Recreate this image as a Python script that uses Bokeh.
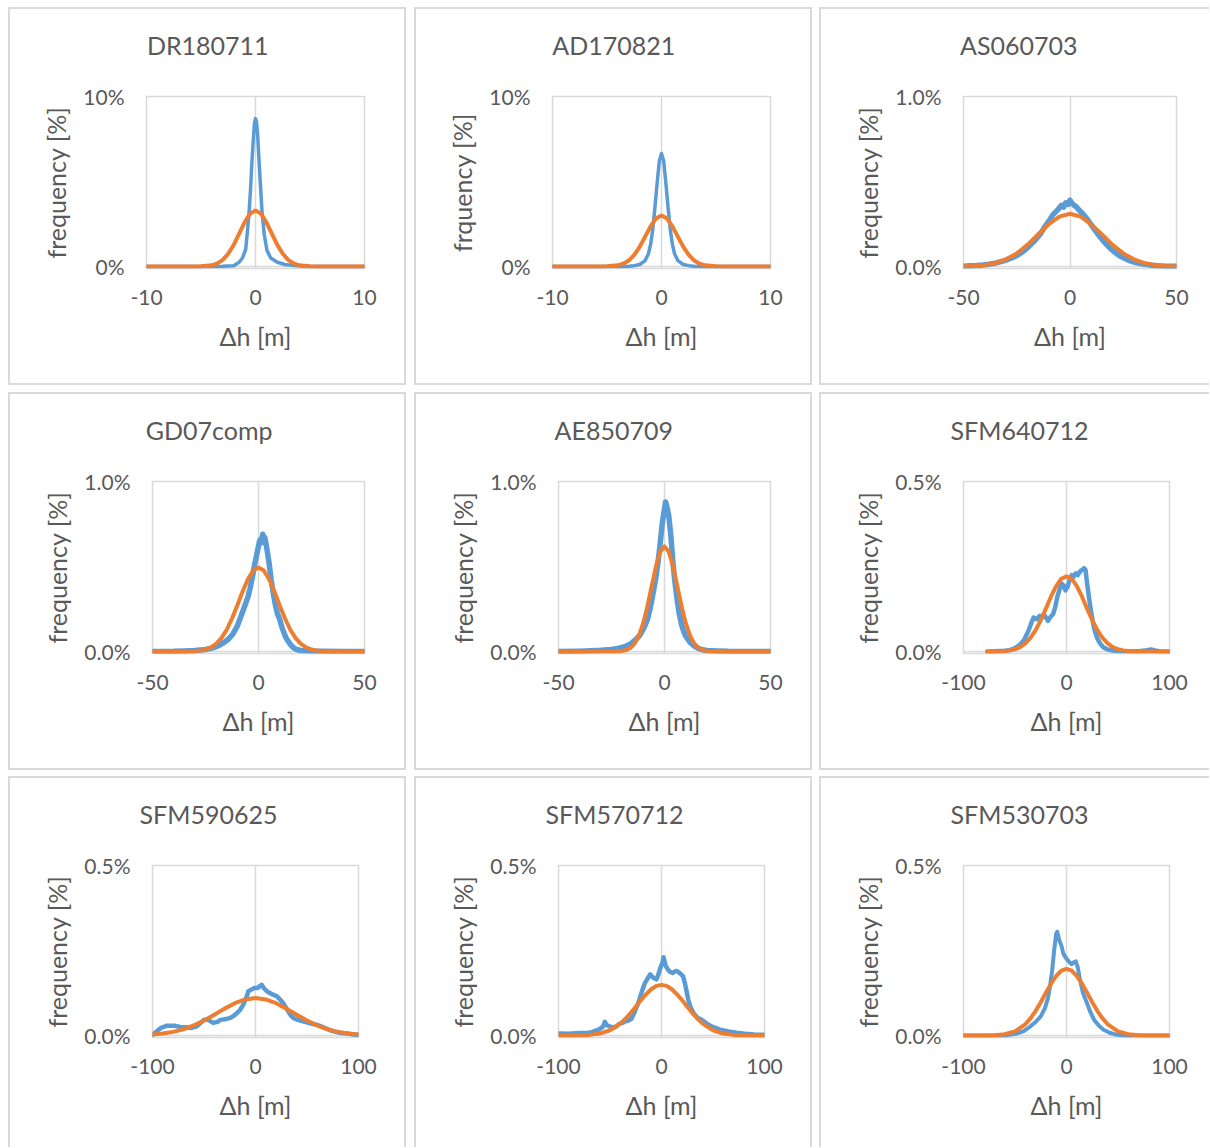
from bokeh.plotting import figure
from bokeh.models import Range1d, FixedTicker, PrintfTickFormatter, Title
from bokeh.layouts import row, column
from bokeh.embed import file_html
from bokeh.resources import INLINE

FONT = "Lato"
TXT = "#595959"
BLUE = "#5B9BD5"
ORANGE = "#ED7D31"
GRID = "#D9D9D9"

# ---------------- data ----------------
titles = ["DR180711", "AD170821", "AS060703",
          "GD07comp", "AE850709", "SFM640712",
          "SFM590625", "SFM570712", "SFM530703"]
y_labels = ["frequency [%]", "frquency [%]", "frequency [%]",
            "frequency [%]", "frequency [%]", "frequency [%]",
            "frequency [%]", "frequency [%]", "frequency [%]"]
x_label = "Δh [m]"
x_limits = [10, 10, 50, 50, 50, 100, 100, 100, 100]
y_max = [10, 10, 1.0, 1.0, 1.0, 0.5, 0.5, 0.5, 0.5]
y_formats = ["%d%%", "%d%%", "%.1f%%", "%.1f%%", "%.1f%%", "%.1f%%", "%.1f%%", "%.1f%%", "%.1f%%"]

# DR180711
dr_obs_x = [-10, -5, -3, -2, -1.5, -1.2, -0.9, -0.75, -0.6, -0.45,
            -0.35, -0.2, -0.1, 0, 0.1, 0.2, 0.35, 0.5, 0.6, 0.8,
            1.05, 1.4, 2.0, 2.7, 3.5, 4.5, 6, 10]
dr_obs_y = [0, 0, 0.01, 0.05, 0.25, 0.5, 1.0, 2.0, 3.1, 4.6,
            5.9, 7.5, 8.4, 8.7, 8.5, 7.7, 5.9, 4.3, 3.2, 1.9,
            0.95, 0.5, 0.25, 0.12, 0.06, 0.02, 0, 0]
dr_fit_x = [-10, -6, -5, -4, -3.5, -3, -2.5, -2, -1.5, -1,
            -0.5, 0, 0.5, 1, 1.5, 2, 2.5, 3, 3.5, 4,
            5, 6, 10]
dr_fit_y = [0, 0, 0.01, 0.07, 0.18, 0.39, 0.75, 1.27, 1.93, 2.6,
            3.11, 3.3, 3.11, 2.6, 1.93, 1.27, 0.75, 0.39, 0.18, 0.07,
            0.01, 0, 0]

# AD170821
ad_obs_x = [-10, -5, -4, -3, -2.5, -2, -1.5, -1.2, -1.0, -0.8,
            -0.6, -0.4, -0.2, 0, 0.2, 0.4, 0.6, 0.8, 1.0, 1.2,
            1.5, 2, 2.5, 3, 4, 5, 10]
ad_obs_y = [0, 0, 0.005, 0.02, 0.05, 0.12, 0.35, 0.75, 1.3, 2.2,
            3.5, 4.9, 6.2, 6.65, 6.2, 4.9, 3.5, 2.2, 1.3, 0.75,
            0.35, 0.12, 0.05, 0.02, 0.005, 0, 0]
ad_fit_x = [-10, -6, -5, -4, -3.5, -3, -2.5, -2, -1.5, -1,
            -0.5, 0, 0.5, 1, 1.5, 2, 2.5, 3, 3.5, 4,
            5, 6, 10]
ad_fit_y = [0, 0, 0.01, 0.07, 0.16, 0.35, 0.68, 1.16, 1.76, 2.36,
            2.83, 3.0, 2.83, 2.36, 1.76, 1.16, 0.68, 0.35, 0.16, 0.07,
            0.01, 0, 0]

# AS060703
as_obs_x = [-50, -47, -44, -41, -38, -35, -32, -30, -28, -26,
            -24, -22, -20, -18, -16, -14, -12, -10, -8, -6,
            -4, -3, -2, -1, 0, 1, 2, 3, 4, 6,
            8, 10, 12, 14, 16, 18, 20, 22, 24, 26,
            28, 30, 32, 35, 38, 41, 44, 47, 50]
as_obs_y = [0.002, 0.004, 0.006, 0.009, 0.013, 0.02, 0.03, 0.037, 0.048, 0.058,
            0.072, 0.088, 0.11, 0.135, 0.16, 0.19, 0.23, 0.265, 0.305, 0.33,
            0.36, 0.35, 0.375, 0.365, 0.39, 0.37, 0.36, 0.35, 0.335, 0.31,
            0.28, 0.245, 0.21, 0.175, 0.145, 0.118, 0.095, 0.074, 0.058, 0.045,
            0.034, 0.026, 0.02, 0.013, 0.008, 0.005, 0.003, 0.002, 0.001]
as_fit_x = [-50, -45, -40, -35, -30, -25, -20, -15, -10, -5,
            0, 5, 10, 15, 20, 25, 30, 35, 40, 45, 50]
as_fit_y = [0.001, 0.0034, 0.0088, 0.020, 0.042, 0.077, 0.127, 0.188, 0.248, 0.293,
            0.31, 0.293, 0.248, 0.188, 0.127, 0.077, 0.042, 0.020, 0.0088, 0.0034, 0.001]

# GD07comp
gd_obs_x = [-50, -40, -35, -30, -25, -22, -20, -18, -16, -14,
            -12, -10, -8.5, -7, -6, -5, -4, -3, -2, -1,
            0, 0.5, 1, 1.5, 2, 2.5, 3, 4, 5, 6,
            7, 8, 9, 10, 11, 12, 13, 14, 15, 16,
            17, 18, 20, 25, 30, 40, 50]
gd_obs_y = [0, 0.001, 0.003, 0.006, 0.012, 0.02, 0.028, 0.04, 0.055, 0.075,
            0.105, 0.15, 0.2, 0.25, 0.285, 0.32, 0.37, 0.43, 0.5, 0.56,
            0.62, 0.65, 0.66, 0.64, 0.69, 0.67, 0.67, 0.6, 0.52, 0.42,
            0.34, 0.27, 0.22, 0.19, 0.145, 0.11, 0.08, 0.06, 0.042, 0.028,
            0.018, 0.012, 0.006, 0.002, 0.001, 0, 0]
gd_fit_x = [-50, -40, -35, -30, -27.5, -25, -22.5, -20, -17.5, -15,
            -12.5, -10, -7.5, -5, -2.5, 0, 2.5, 5, 7.5, 10,
            12.5, 15, 17.5, 20, 22.5, 25, 27.5, 30, 35, 40, 50]
gd_fit_y = [0, 0, 0.0003, 0.0022, 0.0053, 0.0116, 0.024, 0.045, 0.079, 0.128,
            0.194, 0.271, 0.353, 0.425, 0.476, 0.494, 0.476, 0.425, 0.353, 0.271,
            0.194, 0.128, 0.079, 0.045, 0.024, 0.0116, 0.0053, 0.0022, 0.0003, 0, 0]

# AE850709
ae_obs_x = [-50, -40, -35, -30, -25, -22, -20, -18, -16, -14,
            -12, -10, -8, -7, -6, -5, -4, -3, -2, -1,
            0, 0.5, 1, 2, 3, 4, 5, 6, 7, 8,
            9, 10, 12, 14, 16, 18, 20, 25, 30, 40, 50]
ae_obs_y = [0, 0.002, 0.004, 0.007, 0.012, 0.018, 0.024, 0.032, 0.045, 0.065,
            0.09, 0.13, 0.19, 0.24, 0.3, 0.37, 0.44, 0.53, 0.64, 0.76,
            0.84, 0.88, 0.86, 0.8, 0.68, 0.52, 0.4, 0.3, 0.22, 0.16,
            0.12, 0.09, 0.055, 0.032, 0.018, 0.01, 0.006, 0.003, 0.001, 0, 0]
ae_fit_x = [-50, -30, -25, -20, -18, -16, -14, -12, -10, -8,
            -6, -4, -2, 0, 2, 4, 6, 8, 10, 12,
            14, 16, 18, 20, 25, 30, 50]
ae_fit_y = [0, 0, 0.0002, 0.0034, 0.009, 0.022, 0.048, 0.095, 0.168, 0.269,
            0.387, 0.502, 0.587, 0.618, 0.587, 0.502, 0.387, 0.269, 0.168, 0.095,
            0.048, 0.022, 0.009, 0.0034, 0.0002, 0, 0]

# SFM640712
s64_obs_x = [-77, -70, -60, -55, -50, -45, -41, -37, -34, -32,
             -29, -26, -24, -22, -20, -18, -16, -13, -11, -9,
             -7, -5, -3, -1, 1, 3, 5, 7, 9, 11,
             13, 15, 17, 18.5, 20, 22, 24, 26, 28, 30,
             33, 36, 40, 45, 55, 70, 78, 82, 86, 90, 100]
s64_obs_y = [0, 0.001, 0.002, 0.004, 0.01, 0.02, 0.035, 0.06, 0.085, 0.1,
             0.095, 0.105, 0.1, 0.11, 0.1, 0.09, 0.1, 0.11, 0.13, 0.16,
             0.18, 0.2, 0.195, 0.18, 0.19, 0.21, 0.225, 0.22, 0.23, 0.225,
             0.235, 0.24, 0.245, 0.24, 0.2, 0.155, 0.115, 0.08, 0.055, 0.038,
             0.022, 0.012, 0.006, 0.003, 0.001, 0.001, 0.004, 0.006, 0.003, 0.001, 0]
s64_fit_x = [-77, -70, -60, -55, -50, -45, -40, -35, -30, -25,
             -20, -15, -10, -5, 0, 5, 10, 15, 20, 25,
             30, 35, 40, 45, 50, 55, 60, 70, 80, 100]
s64_fit_y = [0, 0.0002, 0.0014, 0.0033, 0.0067, 0.013, 0.0236, 0.040, 0.063, 0.092,
             0.126, 0.162, 0.192, 0.214, 0.221, 0.214, 0.192, 0.162, 0.126, 0.092,
             0.063, 0.040, 0.0236, 0.013, 0.0067, 0.0033, 0.0014, 0.0002, 0, 0]

# SFM590625
s59_obs_x = [-100, -96, -92, -86, -79, -73, -68, -63, -57, -53,
             -50, -46, -41, -37, -34, -30, -25, -21, -18, -15,
             -12, -9, -7, -4, -1, 2, 4, 6, 8, 11,
             14, 17, 21, 24, 27, 30, 34, 37, 41, 47,
             53, 60, 66, 72, 76, 82, 89, 95, 100]
s59_obs_y = [0.002, 0.012, 0.022, 0.029, 0.029, 0.025, 0.024, 0.022, 0.027, 0.038,
             0.046, 0.046, 0.037, 0.04, 0.046, 0.048, 0.051, 0.058, 0.066, 0.075,
             0.09, 0.11, 0.13, 0.135, 0.14, 0.14, 0.145, 0.149, 0.14, 0.13,
             0.125, 0.12, 0.115, 0.105, 0.095, 0.08, 0.06, 0.051, 0.046, 0.041,
             0.036, 0.031, 0.024, 0.016, 0.012, 0.008, 0.006, 0.003, 0.002]
s59_fit_x = [-100, -90, -80, -70, -60, -50, -40, -30, -20, -10,
             0, 10, 20, 30, 40, 50, 60, 70, 80, 90, 100]
s59_fit_y = [0.0029, 0.0057, 0.0106, 0.018, 0.0295, 0.044, 0.061, 0.079, 0.095, 0.106,
             0.110, 0.106, 0.095, 0.079, 0.061, 0.044, 0.0295, 0.018, 0.0106, 0.0057, 0.0029]

# SFM570712
s57_obs_x = [-100, -90, -80, -74, -68, -61, -57, -55, -53, -50,
             -45, -41, -38, -35, -32, -29, -26, -22, -19, -16,
             -13, -11, -8, -5, -3, -1, 1, 2, 4, 6,
             8, 11, 14, 16, 19, 21, 23, 26, 28, 31,
             35, 39, 44, 49, 57, 65, 73, 81, 90, 100]
s57_obs_y = [0.006, 0.005, 0.007, 0.007, 0.01, 0.017, 0.025, 0.04, 0.03, 0.026,
             0.024, 0.034, 0.037, 0.042, 0.044, 0.05, 0.07, 0.1, 0.13, 0.155,
             0.17, 0.18, 0.17, 0.165, 0.18, 0.2, 0.215, 0.23, 0.205, 0.195,
             0.188, 0.184, 0.19, 0.188, 0.18, 0.174, 0.15, 0.105, 0.085, 0.066,
             0.052, 0.046, 0.035, 0.026, 0.017, 0.012, 0.008, 0.005, 0.003, 0.002]
s57_fit_x = [-100, -90, -80, -70, -60, -50, -40, -35, -30, -25,
             -20, -15, -10, -5, 0, 5, 10, 15, 20, 25,
             30, 35, 40, 50, 60, 70, 80, 90, 100]
s57_fit_y = [0, 0.0001, 0.0005, 0.0018, 0.0057, 0.0155, 0.035, 0.049, 0.066, 0.0846,
             0.104, 0.1215, 0.136, 0.146, 0.149, 0.146, 0.136, 0.1215, 0.104, 0.0846,
             0.066, 0.049, 0.035, 0.0155, 0.0057, 0.0018, 0.0005, 0.0001, 0]

# SFM530703
s53_obs_x = [-100, -60, -48, -42, -35, -30, -25, -21, -18, -16,
             -14, -12, -10, -9, -7, -5, -3, -1, 1, 3,
             5, 7, 9, 11, 13, 16, 20, 23, 27, 32,
             36, 42, 49, 60, 100]
s53_obs_y = [0, 0, 0.006, 0.012, 0.027, 0.04, 0.056, 0.08, 0.11, 0.145,
             0.19, 0.25, 0.3, 0.305, 0.28, 0.265, 0.24, 0.23, 0.222, 0.215,
             0.21, 0.215, 0.218, 0.2, 0.165, 0.125, 0.095, 0.07, 0.045, 0.027,
             0.017, 0.008, 0.002, 0, 0]
s53_fit_x = [-100, -80, -70, -60, -50, -40, -35, -30, -25, -20,
             -15, -10, -5, 0, 5, 10, 15, 20, 25, 30,
             35, 40, 50, 60, 70, 80, 100]
s53_fit_y = [0, 0, 0.0009, 0.0036, 0.012, 0.033, 0.0503, 0.072, 0.0979, 0.126,
             0.1526, 0.175, 0.1906, 0.196, 0.1906, 0.175, 0.1526, 0.126, 0.0979, 0.072,
             0.0503, 0.033, 0.012, 0.0036, 0.0009, 0, 0]

observed = [(dr_obs_x, dr_obs_y), (ad_obs_x, ad_obs_y), (as_obs_x, as_obs_y),
            (gd_obs_x, gd_obs_y), (ae_obs_x, ae_obs_y), (s64_obs_x, s64_obs_y),
            (s59_obs_x, s59_obs_y), (s57_obs_x, s57_obs_y), (s53_obs_x, s53_obs_y)]
fitted = [(dr_fit_x, dr_fit_y), (ad_fit_x, ad_fit_y), (as_fit_x, as_fit_y),
          (gd_fit_x, gd_fit_y), (ae_fit_x, ae_fit_y), (s64_fit_x, s64_fit_y),
          (s59_fit_x, s59_fit_y), (s57_fit_x, s57_fit_y), (s53_fit_x, s53_fit_y)]

# ---------------- layout ----------------
PANEL_W = [398, 398, 390]
PANEL_H = [378, 378, 371]
COL_GAP = [8, 8, 7]
ROW_GAP = [7, 7, 6]
FRAME_LEFT = [138, 138, 144, 144, 144, 144, 144, 144, 144]
FRAME_RIGHT = [356, 356, 357, 356, 356, 350, 350, 350, 350]
FRAME_TOP = 89
PLOT_H = 170      # 0 .. y_max
PAD = 2           # pixels below the zero line
BLUE_W = [3.5, 3.5, 5.5, 5.5, 5.5, 4.5, 4.5, 4.5, 4]
TITLE_PX = 25

# approximate Lato advance widths (em) used to centre the title on the panel
_ADV = {"D": 0.738, "R": 0.627, "A": 0.678, "S": 0.524, "G": 0.709, "E": 0.556,
        "F": 0.548, "M": 0.887, "c": 0.441, "o": 0.542, "m": 0.821, "p": 0.522}


def text_width(s, px):
    return sum(_ADV.get(ch, 0.58) for ch in s) * px


def make_panel(i, r, c):
    pw, ph = PANEL_W[c], PANEL_H[r]
    left, right = FRAME_LEFT[i], FRAME_RIGHT[i]
    fh = PLOT_H + PAD
    bottom = ph - FRAME_TOP - fh
    xl, ym = x_limits[i], y_max[i]
    p = figure(width=pw, height=ph,
               x_range=Range1d(-xl, xl), y_range=Range1d(-ym * PAD / PLOT_H, ym),
               output_backend="svg", toolbar_location=None, tools="",
               min_border_left=left, min_border_right=pw - right,
               min_border_top=FRAME_TOP, min_border_bottom=bottom)
    p.border_fill_color = None
    p.background_fill_color = "white"
    p.outline_line_color = GRID
    p.outline_line_width = 1.5
    sides = ["inset 2px 0 0 0 #D9D9D9", "inset 0 2px 0 0 #D9D9D9"]
    if c < 2:
        sides.append("inset -2px 0 0 0 #D9D9D9")
    if r < 2:
        sides.append("inset 0 -2px 0 0 #D9D9D9")
    p.styles = {"background-color": "white", "box-shadow": ", ".join(sides)}
    p.margin = (ROW_GAP[r], 0, 0, COL_GAP[c])

    # blank spacer between the title and the plot area
    p.add_layout(Title(text=" ", text_font_size="10px", standoff=19), "above")
    # title, centred on the whole panel
    p.title.text = titles[i]
    p.title.align = "left"
    p.title.offset = 199 - left - text_width(titles[i], TITLE_PX) / 2
    p.title.text_font = FONT
    p.title.text_font_size = f"{TITLE_PX}px"
    p.title.text_font_style = "normal"
    p.title.text_color = TXT
    p.title.standoff = 10

    p.xaxis.ticker = FixedTicker(ticks=[-xl, 0, xl])
    p.xaxis.formatter = PrintfTickFormatter(format="%d")
    p.yaxis.ticker = FixedTicker(ticks=[0, ym])
    p.yaxis.formatter = PrintfTickFormatter(format=y_formats[i])
    p.xaxis.axis_label = x_label
    p.yaxis.axis_label = y_labels[i]
    for ax in p.axis:
        ax.axis_line_color = None
        ax.major_tick_line_color = None
        ax.minor_tick_line_color = None
        ax.major_tick_out = 0
        ax.major_tick_in = 0
        ax.major_label_text_font = FONT
        ax.major_label_text_font_size = "21px"
        ax.major_label_text_color = TXT
        ax.axis_label_text_font = FONT
        ax.axis_label_text_font_size = "25px"
        ax.axis_label_text_color = TXT
        ax.axis_label_text_font_style = "normal"
    p.xaxis.major_label_standoff = 21
    p.xaxis.axis_label_standoff = 13
    p.yaxis.major_label_standoff = 22
    p.yaxis.axis_label_standoff = 9
    p.xgrid.grid_line_color = GRID
    p.ygrid.grid_line_color = GRID
    p.xgrid.grid_line_width = 1.5
    p.ygrid.grid_line_width = 1.5

    ox, oy = observed[i]
    fx, fy = fitted[i]
    p.line(ox, oy, line_color=BLUE, line_width=BLUE_W[i], line_join="round", line_cap="round")
    p.line(fx, fy, line_color=ORANGE, line_width=4, line_join="round", line_cap="round")
    return p


rows = []
for r in range(3):
    figs = [make_panel(r * 3 + c, r, c) for c in range(3)]
    rows.append(row(*figs))
root = column(*rows)

open("out.html", "w").write(file_html(root, INLINE, title="Δh histograms"))
